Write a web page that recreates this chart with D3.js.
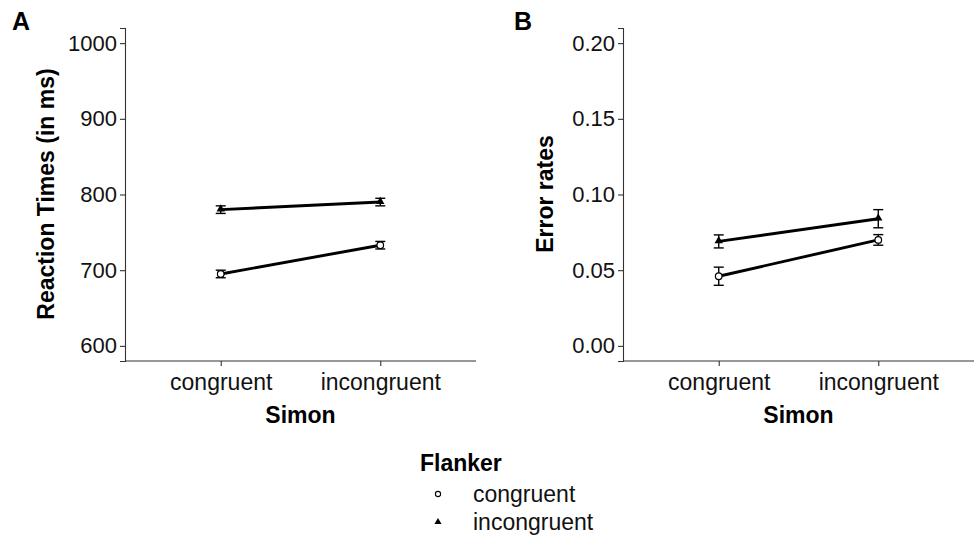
<!DOCTYPE html>
<html>
<head>
<meta charset="utf-8">
<script src="https://cdn.jsdelivr.net/npm/d3@7"></script>
<style>
  body { margin: 0; background: #fff; }
  text { font-family: "Liberation Sans", Arial, sans-serif; }
</style>
</head>
<body>
<svg id="chart" width="975" height="537"></svg>
<script>
// data
var simonLevels = ["congruent", "incongruent"];
var flankerLevels = ["congruent", "incongruent"];

var rtCongruent = [695, 733];      // Flanker congruent, by Simon
var rtIncongruent = [780, 790];    // Flanker incongruent
var rtErrCongruent = [5, 5];
var rtErrIncongruent = [5, 5];
var rtTicks = [600, 700, 800, 900, 1000];

var erCongruent = [0.046, 0.070];
var erIncongruent = [0.069, 0.084];
var erErrCongruent = [0.006, 0.0035];
var erErrIncongruent = [0.0043, 0.006];
var erTicks = [0, 0.05, 0.10, 0.15, 0.20];

var svg = d3.select("#chart");

function drawPanel(opt) {
    var g = svg.append("g");

    var x = d3.scalePoint().domain(simonLevels)
        .range([opt.x0 + (opt.x1 - opt.x0) * 0.6 / 2.2, opt.x1 - (opt.x1 - opt.x0) * 0.6 / 2.2]);
    var y = d3.scaleLinear().domain(opt.domain).range([361, 28]);

    // axes
    var yAxis = d3.axisLeft(y).tickValues(opt.ticks).tickSize(5).tickPadding(3).tickFormat(opt.fmt);
    var ya = g.append("g").attr("transform", "translate(" + opt.x0 + ",0)").call(yAxis);
    var xAxis = d3.axisBottom(x).tickSize(5);
    var xa = g.append("g").attr("transform", "translate(0,361)").call(xAxis);
    xa.select(".domain").attr("d", "M" + opt.x0 + ",0H" + opt.x1);

    [ya, xa].forEach(function(a) {
        a.select(".domain").attr("stroke", "#333").attr("stroke-width", 1.1);
        a.selectAll(".tick line").attr("stroke", "#333").attr("stroke-width", 1.1);
        a.selectAll(".tick text").attr("fill", "#111");
    });
    ya.selectAll(".tick text").style("font-size", "22px");
    xa.selectAll(".tick text").style("font-size", "23px").attr("y", 29).attr("dy", 0);

    // titles
    g.append("text").attr("x", (opt.x0 + opt.x1) / 2).attr("y", 423)
        .attr("text-anchor", "middle").style("font-size", "23px").style("font-weight", "bold")
        .text("Simon");
    g.append("text").attr("transform", "translate(" + opt.ytx + "," + 194 + ") rotate(-90)")
        .attr("text-anchor", "middle").style("font-size", "23px").style("font-weight", "bold")
        .text(opt.ytitle);
    g.append("text").attr("x", opt.tagx).attr("y", 30)
        .style("font-size", "25px").style("font-weight", "bold").text(opt.tag);

    var series = [
        { vals: opt.cong, errs: opt.congErr, shape: "circle" },
        { vals: opt.incong, errs: opt.incongErr, shape: "triangle" }
    ];
    var line = d3.line().x(function(d, i) { return x(simonLevels[i]); }).y(function(d) { return y(d); });

    series.forEach(function(s) {
        g.append("path").attr("d", line(s.vals)).attr("fill", "none")
            .attr("stroke", "#000").attr("stroke-width", 2.9);
        s.vals.forEach(function(v, i) {
            var cx = x(simonLevels[i]);
            var top = y(v + s.errs[i]), bot = y(v - s.errs[i]);
            var eb = g.append("g").attr("stroke", "#000").attr("stroke-width", 1.4);
            eb.append("line").attr("x1", cx).attr("x2", cx).attr("y1", top).attr("y2", bot);
            eb.append("line").attr("x1", cx - 5).attr("x2", cx + 5).attr("y1", top).attr("y2", top);
            eb.append("line").attr("x1", cx - 5).attr("x2", cx + 5).attr("y1", bot).attr("y2", bot);
        });
        s.vals.forEach(function(v, i) {
            var cx = x(simonLevels[i]), cy = y(v);
            if (s.shape === "circle") {
                g.append("circle").attr("cx", cx).attr("cy", cy).attr("r", 3.3)
                    .attr("fill", "#fff").attr("stroke", "#000").attr("stroke-width", 1.2);
            } else {
                g.append("path").attr("d", d3.symbol(d3.symbolTriangle, 30)())
                    .attr("transform", "translate(" + cx + "," + (cy - 0.5) + ")").attr("fill", "#000");
            }
        });
    });
}

drawPanel({
    x0: 125, x1: 476, domain: [580, 1020], ticks: rtTicks, fmt: d3.format("d"),
    cong: rtCongruent, incong: rtIncongruent, congErr: rtErrCongruent, incongErr: rtErrIncongruent,
    ytitle: "Reaction Times (in ms)", ytx: 54, tag: "A", tagx: 12
});
drawPanel({
    x0: 623, x1: 974, domain: [-0.01, 0.21], ticks: erTicks, fmt: d3.format(".2f"),
    cong: erCongruent, incong: erIncongruent, congErr: erErrCongruent, incongErr: erErrIncongruent,
    ytitle: "Error rates", ytx: 553, tag: "B", tagx: 514
});

// legend
var leg = svg.append("g");
leg.append("text").attr("x", 420).attr("y", 471).style("font-size", "23px")
    .style("font-weight", "bold").text("Flanker");
flankerLevels.forEach(function(lv, i) {
    var yy = 494 + i * 28;
    if (i === 0) {
        leg.append("circle").attr("cx", 438).attr("cy", yy).attr("r", 2.6)
            .attr("fill", "#fff").attr("stroke", "#000").attr("stroke-width", 1.1);
    } else {
        leg.append("path").attr("d", d3.symbol(d3.symbolTriangle, 22)())
            .attr("transform", "translate(438," + yy + ")").attr("fill", "#000");
    }
    leg.append("text").attr("x", 473).attr("y", yy + 7.5).style("font-size", "23px")
        .attr("fill", "#111").text(lv);
});
</script>
</body>
</html>
